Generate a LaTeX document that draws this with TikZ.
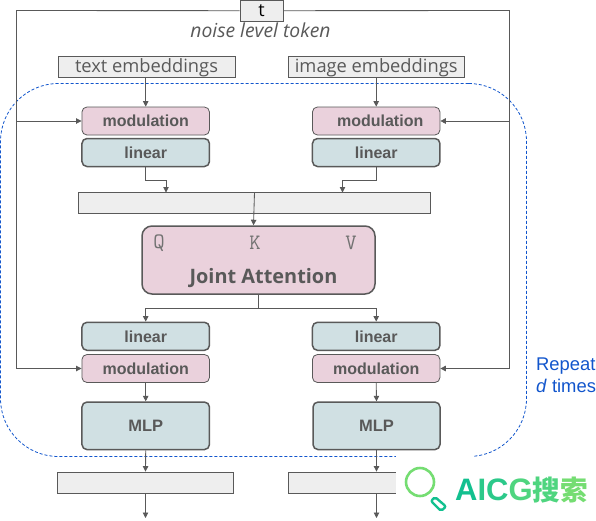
\documentclass[tikz,border=0pt]{standalone}
\usepackage{fontspec}
\setmainfont{Open Sans}
\newfontfamily\arialf{Liberation Sans}
\newfontfamily\cjkf{Noto Sans CJK SC}
\usetikzlibrary{arrows.meta}
\definecolor{lineg}{HTML}{595959}
\definecolor{barg}{HTML}{EEEEEE}
\definecolor{pinkf}{HTML}{EAD1DC}
\definecolor{bluef}{HTML}{D0E0E3}
\definecolor{repb}{HTML}{1155CC}
\definecolor{wa}{HTML}{12C08F}
\definecolor{wb}{HTML}{2CC98A}
\definecolor{wc}{HTML}{4FD57F}
\definecolor{wd}{HTML}{75DD72}
\tikzset{
  x=1pt,y=-1pt,
  conn/.style={draw=lineg,line width=0.85pt},
  arr/.style={conn,-{Triangle[length=5.5pt,width=5.5pt]}},
  boxb/.style={draw=lineg,fill=barg,line width=0.85pt,inner sep=0pt,text=lineg},
  modbox/.style={draw=lineg,fill=pinkf,line width=0.8pt,rounded corners=5pt,inner sep=0pt,
     minimum width=127.5pt,minimum height=28pt,text=lineg,font=\arialf\bfseries\fontsize{16}{18}\selectfont},
  linbox/.style={draw=lineg,fill=bluef,line width=1.5pt,rounded corners=5pt,inner sep=0pt,
     minimum width=127.5pt,minimum height=28pt,text=lineg,font=\arialf\bfseries\fontsize{16}{18}\selectfont},
  mlpbox/.style={linbox,minimum height=47.5pt,font=\arialf\bfseries\fontsize{16.5}{18}\selectfont},
  qkv/.style={text=lineg!85,font=\ttfamily\fontsize{22}{24}\selectfont,inner sep=0pt},
  emb/.style={inner sep=0pt,text=lineg,font=\fontsize{18.3}{20}\selectfont},
}
\begin{document}
\begin{tikzpicture}
\useasboundingbox (0,0) rectangle (596,520);
% repeat region
\node[draw=repb,dash pattern=on 3pt off 2pt,line width=0.8pt,rounded corners=58pt,inner sep=0pt,minimum width=526pt,minimum height=373pt] (rep) at (263.5,270) {};
% boxes
\node[boxb,minimum width=43pt,minimum height=20.5pt,text=black,font=\fontsize{18}{20}\selectfont] (t) at (261.5,10.7) {t};
\node[text=lineg,font=\itshape\fontsize{19.3}{21}\selectfont,inner sep=0pt] (noise) at (260.5,30.5) {noise level token};
\node[boxb,minimum width=177pt,minimum height=21pt] (te) at (147,67) {};
\node[emb] (tet) at (146.5,67.5) {text embeddings};
\node[boxb,minimum width=175.5pt,minimum height=21pt] (ie) at (376.2,67) {};
\node[emb] (iet) at (376.2,67.5) {image embeddings};
\node[modbox] (m1) at (145.7,121) {modulation};
\node[linbox] (l1) at (145.7,152.5) {linear};
\node[modbox] (m2) at (376.2,121) {\hspace*{8pt}modulation};
\node[linbox] (l2) at (376.2,152.5) {linear};
\node[boxb,minimum width=352pt,minimum height=20.5pt] (bar) at (254.5,202.8) {};
\node[linbox,fill=pinkf,minimum width=233pt,minimum height=68pt,rounded corners=10pt] (ja) at (258.5,260) {};
\node[text=lineg,font=\bfseries\fontsize{19.9}{22}\selectfont,inner sep=0pt] (jat) at (263.5,278) {Joint Attention};
\node[qkv] (q) at (159,243) {Q};
\node[qkv] (k) at (255,243) {K};
\node[qkv] (v) at (351,243) {V};
\node[linbox] (l3) at (145.7,336.3) {linear};
\node[modbox] (m3) at (145.7,368.5) {modulation};
\node[linbox] (l4) at (376.2,336.3) {linear};
\node[modbox] (m4) at (376.2,368.5) {modulation};
\node[mlpbox] (p1) at (145.7,425.8) {MLP};
\node[mlpbox,minimum width=127pt] (p2) at (376.5,425.8) {MLP};
\node[boxb,minimum width=176pt,minimum height=21pt] (o1) at (145.5,482.5) {};
\node[boxb,minimum width=176pt,minimum height=21pt] (o2) at (376.5,482.5) {};
\node[text=repb,font=\arialf\fontsize{18.4}{22}\selectfont,align=left,inner sep=0pt,anchor=west] (rt) at (536,375) {Repeat\\\textit{d} times};
% connectors
\coordinate (lt) at (16.5,10.5);
\coordinate (rtc) at (509.5,10.5);
\coordinate (end1) at (145.5,518);
\coordinate (end2) at (376.5,518);
\coordinate (s1) at (258.5,308.5);
\draw[arr] (t.west) -- (lt) |- (m3.west);
\draw[arr] (t.east) -- (rtc) |- (m4.east);
\draw[arr] (lt |- m1.west) -- (m1.west);
\draw[arr] (rtc |- m2.east) -- (m2.east);
\draw[arr] (te.south -| m1.north) -- (m1.north);
\draw[arr] (ie.south) -- (m2.north);
\draw[arr] (l1.south) -- ++(0,13) -| (166,192.5);
\draw[arr] (l2.south) -- ++(0,13) -| (342.5,192.5);
\draw[arr] (bar.north) -- (ja.north -| 253.5,0);
\draw[conn] (ja.south) -- (s1);
\draw[arr] (s1) -| (l3.north);
\draw[arr] (s1) -| (l4.north);
\draw[arr] (m3.south) -- (p1.north);
\draw[arr] (m4.south) -- (p2.north);
\draw[arr] (p1.south) -- (o1.north);
\draw[arr] (p2.south) -- (o2.north);
\draw[arr] (o1.south) -- (end1);
\draw[arr] (o2.south) -- (end2);
% watermark
\fill[white] (396,458) rectangle (596,520);
\fill[white] (396,454.5) rectangle (474,458);
\draw[wd,line width=2.6pt] (420,482) circle (14pt);
\draw[wa,line width=2.4pt,rounded corners=2pt] (435,497) -- (446,506.5) -- (441,511) -- (431,501) -- cycle;
\node[font=\arialf\bfseries\fontsize{31}{31}\selectfont,inner sep=0pt,anchor=west] (wm) at (455,490) {\textcolor{wa}{A}\textcolor{wb}{I}\textcolor{wb}{C}\textcolor{wc}{G}\cjkf\bfseries\fontsize{27.5}{31}\selectfont\textcolor{wc}{搜}\textcolor{wd}{索}};
\end{tikzpicture}
\end{document}
